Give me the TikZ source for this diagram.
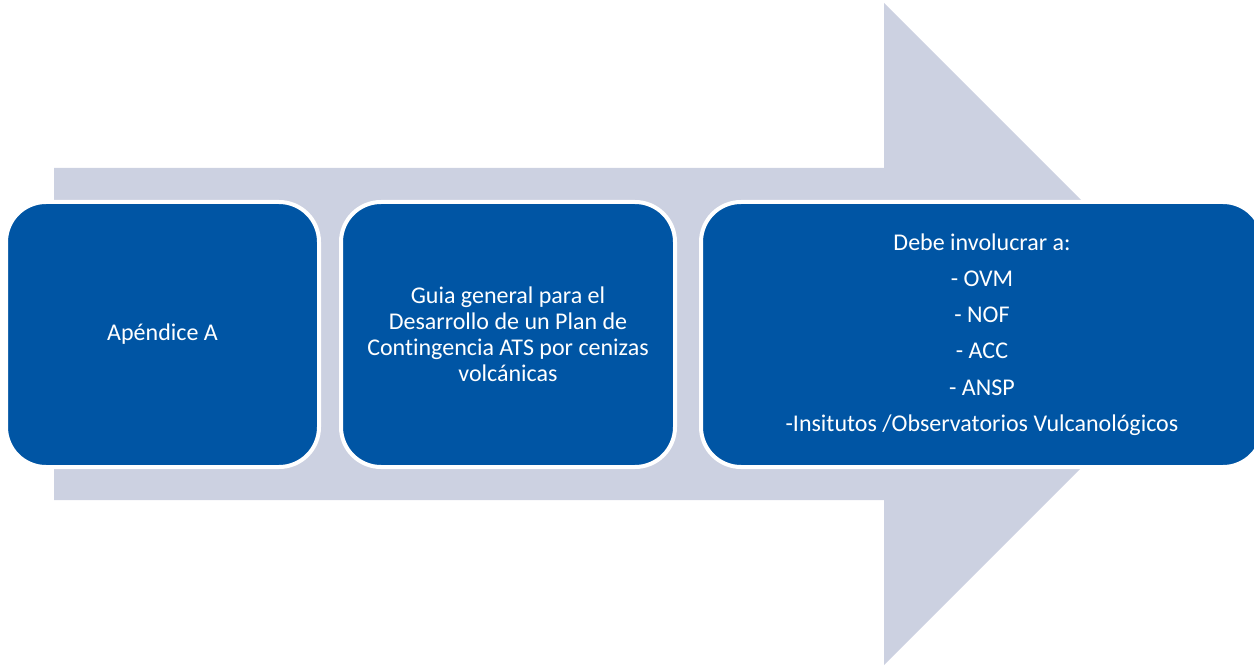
\documentclass[tikz,border=0pt]{standalone}
\usepackage{fontspec}
\setmainfont{Carlito}[Ligatures=NoCommon]
\definecolor{boxblue}{HTML}{0055A4}
\definecolor{arrowgray}{HTML}{CCD1E1}
\begin{document}
\begin{tikzpicture}[x=1pt,y=-1pt,
  stage/.style={rectangle, rounded corners=40pt, fill=boxblue, draw=white, line width=4pt,
    text=white, align=center, inner sep=0pt, font=\fontsize{24}{26}\selectfont}]
\useasboundingbox (0,0) rectangle (1254,666);
% big arrow
\fill[arrowgray] (54,168) -- (884,168) -- (884,3) -- (1215,334) -- (884,665) -- (884,500) -- (54,500) -- cycle;
% stages
\node[stage, minimum width=313pt, minimum height=265pt] (a) at (162.5,334.5) {Apéndice A};
\node[stage, minimum width=334pt, minimum height=265pt] (b) at (508,334.5) {Guia general para el\\Desarrollo de un Plan de\\Contingencia ATS por cenizas\\volcánicas};
\node[stage, minimum width=562pt, minimum height=265pt, font=\fontsize{24}{36.2}\selectfont] (c) at (982,334.5) {Debe involucrar a:\\- OVM\\- NOF\\- ACC\\- ANSP\\-Insitutos /Observatorios Vulcanológicos};
\end{tikzpicture}
\end{document}
